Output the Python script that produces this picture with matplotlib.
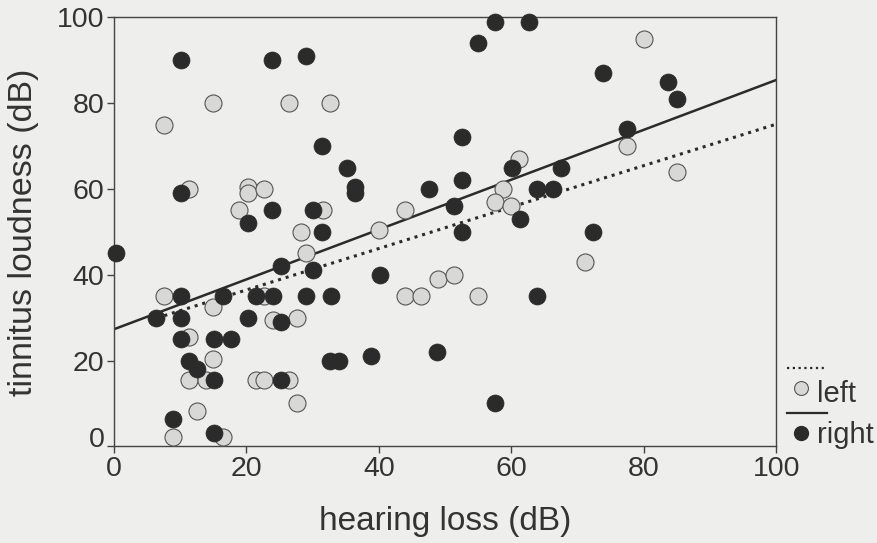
import numpy as np
import matplotlib
matplotlib.use("Agg")
import matplotlib.pyplot as plt
from matplotlib.lines import Line2D
from matplotlib.transforms import ScaledTranslation

plt.rcParams["font.family"] = ["Liberation Sans", "DejaVu Sans"]

# left ear (open grey circles) - hearing loss / tinnitus loudness in dB
left_x = [7.6, 15.0, 26.4, 32.6, 11.4, 20.2, 20.2, 22.7, 18.9, 31.5,
          28.2, 29.0, 7.6, 15.0, 22.7, 11.4, 24.0, 27.7, 15.0, 11.4,
          13.9, 21.5, 22.7, 26.5, 27.7, 12.6, 8.9, 16.4, 61.2, 43.9,
          58.8, 57.6, 60.0, 40.0, 48.9, 51.4, 43.9, 46.4, 55.0, 71.2,
          80.0, 77.4, 85.0]
left_y = [75.0, 80.0, 80.0, 80.0, 60.0, 60.5, 59.0, 60.0, 55.0, 55.0,
          50.0, 45.0, 35.0, 32.4, 35.0, 25.4, 29.4, 30.0, 20.3, 15.5,
          15.5, 15.5, 15.5, 15.5, 10.2, 8.3, 2.2, 2.2, 67.0, 55.0,
          60.0, 57.0, 56.0, 50.5, 39.0, 40.0, 35.0, 35.0, 35.0, 43.0,
          95.0, 70.0, 64.0]

# right ear (filled dark circles)
right_x = [0.3, 20.2, 31.4, 25.2, 30.1, 10.1, 16.4, 21.5, 24.0, 29.0,
           32.7, 6.3, 10.1, 20.2, 25.2, 10.1, 15.1, 17.7, 11.4, 12.6,
           15.1, 25.2, 32.6, 34.0, 8.9, 15.1, 10.1, 23.9, 29.0, 31.4,
           35.2, 10.1, 23.9, 30.1, 36.4, 36.4, 57.6, 62.6, 55.0, 52.6,
           47.6, 52.6, 60.1, 67.5, 63.9, 66.3, 51.4, 61.3, 52.6, 40.1,
           63.9, 38.8, 48.8, 57.6, 73.8, 83.7, 85.0, 77.4, 72.4]
right_y = [45.0, 52.0, 50.0, 42.0, 41.0, 35.0, 35.0, 35.0, 35.0, 35.0,
           35.0, 30.0, 30.0, 30.0, 29.0, 25.0, 25.0, 25.0, 20.0, 18.0,
           15.5, 15.5, 20.0, 20.0, 6.3, 3.2, 90.0, 90.0, 91.0, 70.0,
           65.0, 59.0, 55.0, 55.0, 60.5, 59.0, 99.0, 99.0, 94.0, 72.0,
           60.0, 62.0, 65.0, 65.0, 60.0, 60.0, 56.0, 53.0, 50.0, 40.0,
           35.0, 21.0, 22.0, 10.0, 87.0, 85.0, 81.0, 74.0, 50.0]

# regression lines (intercept, slope)
left_fit = (26.8, 0.483)
right_fit = (27.3, 0.581)

bg = "#eeeeec"
dark = "#2b2b2b"
txt = "#333333"

fig = plt.figure(figsize=(8.77, 5.43), dpi=100, facecolor=bg)
ax = fig.add_axes([0.130, 0.178, 0.755, 0.790])
ax.set_facecolor(bg)

# lines from the lowest x of each group to the right edge
xl = np.array([min(left_x), 100])
xr = np.array([min(right_x), 100])
ax.plot(xl, left_fit[0] + left_fit[1] * xl, color=dark, lw=2.2,
        linestyle=(0, (1, 1.6)), zorder=2)
ax.plot(xr, right_fit[0] + right_fit[1] * xr, color=dark, lw=1.8, zorder=2)

ax.scatter(left_x, left_y, s=150, facecolor="#d8d8d6", edgecolor="#555555",
           linewidth=0.8, zorder=3, clip_on=False)
ax.scatter(right_x, right_y, s=150, facecolor=dark, edgecolor=dark,
           linewidth=0.5, zorder=4, clip_on=False)

ax.set_xlim(0, 100)
ax.set_ylim(0, 100)
ax.set_xticks([0, 20, 40, 60, 80, 100])
ax.set_yticks([0, 20, 40, 60, 80, 100])
ax.tick_params(direction="out", length=5, width=1, colors="#444444",
               labelsize=20.5, labelcolor=txt, pad=2)
for s in ax.spines.values():
    s.set_color("#444444")
    s.set_linewidth(1)

# the y "0" label sits a bit higher in the original
lab0 = ax.get_yticklabels()[0]
lab0.set_transform(lab0.get_transform() + ScaledTranslation(0, 0.09, fig.dpi_scale_trans))

ax.set_xlabel("hearing loss (dB)", fontsize=24, color=txt, labelpad=17)
ax.set_ylabel("tinnitus loudness (dB)", fontsize=24.5, color=txt, labelpad=13)

# legend drawn by hand outside the axes
def fx(px):
    return px / 877

def fy(py):
    return 1 - py / 543

fig.add_artist(Line2D([fx(787), fx(827)], [fy(368), fy(368)], color=dark,
                      lw=1.6, linestyle=(0, (1, 1.6))))
fig.add_artist(Line2D([fx(801)], [fy(388)], marker="o", markersize=10,
                      markerfacecolor="#d8d8d6", markeredgecolor="#555555",
                      markeredgewidth=0.8, linestyle="none"))
fig.text(fx(817), fy(402), "left", fontsize=21, color=txt, va="baseline")
fig.add_artist(Line2D([fx(787), fx(827)], [fy(413), fy(413)], color=dark, lw=1.6))
fig.add_artist(Line2D([fx(801)], [fy(433)], marker="o", markersize=10,
                      markerfacecolor=dark, markeredgecolor=dark,
                      linestyle="none"))
fig.text(fx(817), fy(443), "right", fontsize=21, color=txt, va="baseline")

fig.savefig("out.png", dpi=100, facecolor=bg)
